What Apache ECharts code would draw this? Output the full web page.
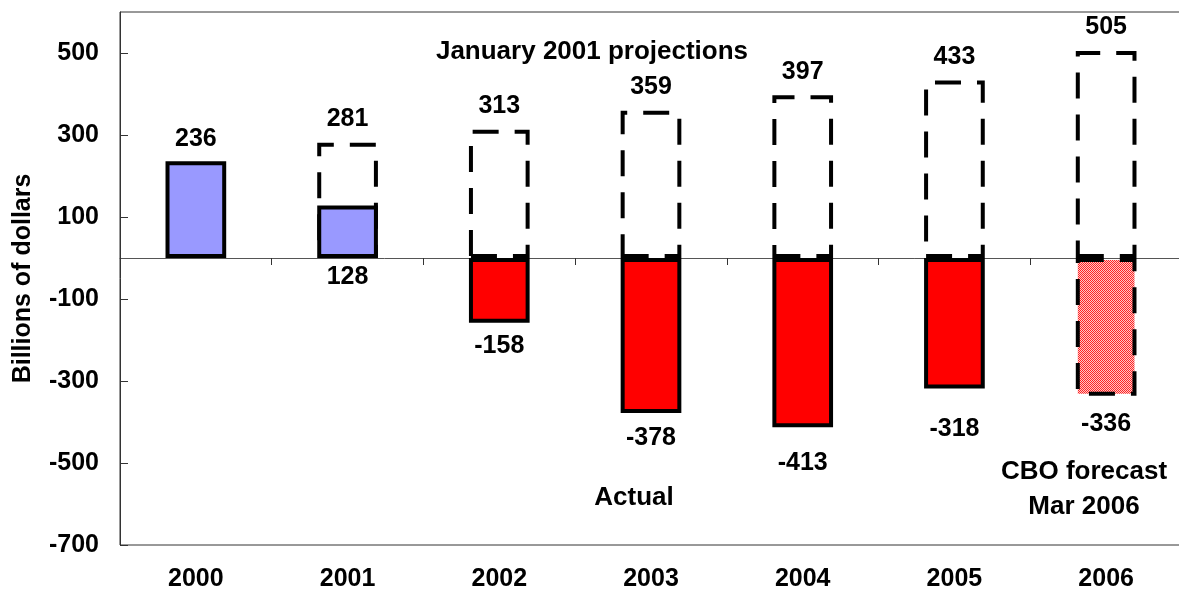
<!DOCTYPE html>
<html>
<head>
<meta charset="utf-8">
<title>Surplus or deficit</title>
<script src="https://cdn.jsdelivr.net/npm/echarts@6/dist/echarts.min.js"></script>
<style>
  html, body { margin: 0; padding: 0; background: #fff; }
  #myChart { width: 1179px; height: 594px; }
</style>
</head>
<body>
<div id="myChart"></div>
<script>
const years = ['2000', '2001', '2002', '2003', '2004', '2005', '2006'];
// actual surplus/deficit, last one is the CBO forecast of Mar 2006
const actual = [236, 128, -158, -378, -413, -318, -336];
// January 2001 projections (none for 2000)
const projections = [null, 281, 313, 359, 397, 433, 505];
const yTicks = [-700, -500, -300, -100, 100, 300, 500];

const FONT = '"Liberation Sans", Arial, sans-serif';
const dash = [26, 16];
// gap between bar end and its label, the original placed them by hand
const actualLabelGap = [10, 7, 11, 13, 23, 28, 16];

// red/pink checker used for the forecast bar
function hatch() {
  const c = document.createElement('canvas');
  c.width = 2;
  c.height = 2;
  const ctx = c.getContext('2d');
  ctx.fillStyle = '#ffc6c6';
  ctx.fillRect(0, 0, 2, 2);
  ctx.fillStyle = '#ff2424';
  ctx.fillRect(0, 0, 1, 1);
  ctx.fillRect(1, 1, 1, 1);
  return c;
}

const labelStyle = {
  show: true,
  color: '#000',
  fontFamily: FONT,
  fontWeight: 'bold',
  fontSize: 25,
};

const actualData = actual.map((v, i) => {
  const forecast = i === actual.length - 1;
  let color = v > 0 ? '#9999ff' : '#ff0000';
  if (forecast) {
    color = { image: hatch(), repeat: 'repeat' };
  }
  return {
    value: v,
    itemStyle: {
      color: color,
      borderType: forecast ? dash : 'solid',
    },
    label: {
      // covered by the projection box above, so put it under the axis
      position: v < 0 || projections[i] != null ? 'bottom' : 'top',
      distance: actualLabelGap[i],
    },
  };
});

const myChart = echarts.init(document.getElementById('myChart'));
myChart.setOption({
  animation: false,
  grid: {
    show: true,
    left: 120,
    right: -3,
    top: 12,
    bottom: 49,
    outerBoundsMode: 'none',
    containLabel: false,
    borderColor: '#333',
    borderWidth: 1,
  },
  xAxis: [
    {
      type: 'category',
      data: years,
      axisLine: { onZero: true, lineStyle: { color: '#555', width: 1 } },
      axisTick: { show: true, length: 7, lineStyle: { color: '#333' } },
      axisLabel: { show: false },
    },
    {
      type: 'category',
      data: years,
      position: 'bottom',
      axisLine: { show: false, onZero: false },
      axisTick: { show: false },
      axisLabel: {
        margin: 22,
        color: '#000',
        fontFamily: FONT,
        fontWeight: 'bold',
        fontSize: 25,
      },
    },
  ],
  yAxis: {
    type: 'value',
    min: yTicks[0],
    max: 600,
    interval: 200,
    name: 'Billions of dollars',
    nameLocation: 'middle',
    nameGap: 84,
    nameMoveOverlap: false,
    nameTextStyle: {
      color: '#000',
      fontFamily: FONT,
      fontWeight: 'bold',
      fontSize: 25,
    },
    axisLine: { show: true, lineStyle: { color: '#333', width: 1 } },
    axisTick: { show: true, inside: true, length: 8, lineStyle: { color: '#333' } },
    axisLabel: {
      showMaxLabel: false,
      margin: 21,
      color: '#000',
      fontFamily: FONT,
      fontWeight: 'bold',
      fontSize: 25,
    },
    splitLine: { show: false },
  },
  series: [
    {
      name: 'January 2001 projections',
      type: 'bar',
      data: projections,
      barWidth: '40%',
      barGap: '-100%',
      itemStyle: {
        color: 'rgba(0,0,0,0)',
        borderColor: '#000',
        borderWidth: 4,
        borderType: dash,
      },
      label: Object.assign({ position: 'top', distance: 11 }, labelStyle),
    },
    {
      name: 'Actual',
      type: 'bar',
      data: actualData,
      barWidth: '40%',
      barGap: '-100%',
      itemStyle: {
        borderColor: '#000',
        borderWidth: 4,
      },
      label: labelStyle,
    },
  ],
  graphic: [
    {
      type: 'text',
      x: 592,
      y: 52,
      style: {
        text: 'January 2001 projections',
        font: 'bold 26px ' + FONT,
        fill: '#000',
        textAlign: 'center',
        textVerticalAlign: 'middle',
      },
    },
    {
      type: 'text',
      x: 634,
      y: 498,
      style: {
        text: 'Actual',
        font: 'bold 26px ' + FONT,
        fill: '#000',
        textAlign: 'center',
        textVerticalAlign: 'middle',
      },
    },
    {
      type: 'text',
      x: 1084,
      y: 489,
      style: {
        text: 'CBO forecast\nMar 2006',
        font: 'bold 26px ' + FONT,
        lineHeight: 35,
        fill: '#000',
        textAlign: 'center',
        textVerticalAlign: 'middle',
      },
    },
  ],
});
</script>
</body>
</html>
